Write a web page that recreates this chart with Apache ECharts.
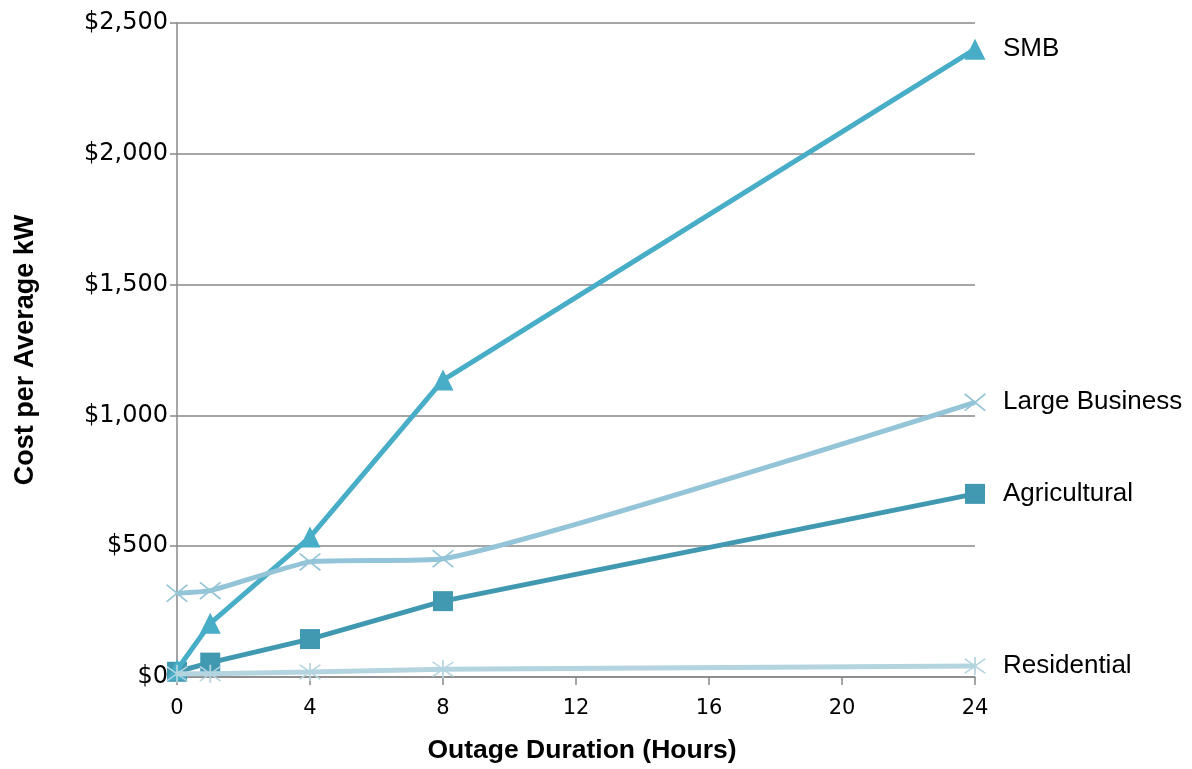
<!DOCTYPE html>
<html>
<head>
<meta charset="utf-8">
<script src="https://cdn.jsdelivr.net/npm/echarts@6/dist/echarts.min.js"></script>
<style>
html,body{margin:0;padding:0;background:#fff;}
#chart{width:1192px;height:769px;}
</style>
</head>
<body>
<div id="chart"></div>
<script>
const hours = [0, 1, 4, 8, 24];
const smb = [28, 205, 535, 1135, 2400];
const largeBusiness = [320, 330, 440, 452, 1050];
const agricultural = [20, 55, 145, 290, 700];
const residential = [12, 12, 19, 30, 42];
const seriesNames = ['SMB', 'Large Business', 'Agricultural', 'Residential'];
const xTicks = [0, 4, 8, 12, 16, 20, 24];
const yTicks = [0, 500, 1000, 1500, 2000, 2500];

const X_PATH = 'path://M0,6 L6,0 L100,94 L94,100 Z M94,0 L100,6 L6,100 L0,94 Z';
const STAR_PATH = 'path://M0,6 L6,0 L100,94 L94,100 Z M94,0 L100,6 L6,100 L0,94 Z M46,-8 L54,-8 L54,108 L46,108 Z';

function pairs(vals) { return hours.map((h, i) => [h, vals[i]]); }

const labelFont = { color: '#000', fontSize: 26, fontFamily: 'Liberation Sans, Arial, sans-serif' };

function mk(name, vals, color, symbol, size, smooth, z, w) {
  return {
    name: name, type: 'line', data: pairs(vals), smooth: smooth, z: z,
    symbol: symbol, symbolSize: size,
    lineStyle: { color: color, width: w },
    itemStyle: { color: color },
    endLabel: Object.assign({ show: true, formatter: '{a}', distance: 28 }, labelFont)
  };
}

const chart = echarts.init(document.getElementById('chart'), null, { renderer: 'canvas' });
chart.setOption({
  animation: false,
  backgroundColor: '#fff',
  grid: { left: 177, right: 217, top: 23, bottom: 91, containLabel: false },
  xAxis: {
    type: 'value', min: 0, max: 24, interval: 4,
    name: 'Outage Duration (Hours)', nameLocation: 'middle', nameGap: 60,
    nameTextStyle: { color: '#000', fontSize: 26.5, fontWeight: 'bold', fontFamily: 'Liberation Sans, Arial, sans-serif', padding: [0, 0, 0, 12] },
    axisLine: { show: true, lineStyle: { color: '#888', width: 1.5 } },
    axisTick: { show: true, inside: false, length: 8, lineStyle: { color: '#888', width: 1.5 } },
    axisLabel: { color: '#000', fontSize: 21, fontFamily: 'DejaVu Sans, sans-serif', margin: 21, formatter: v => xTicks.includes(v) ? String(v) : '' },
    splitLine: { show: false }
  },
  yAxis: {
    type: 'value', min: 0, max: 2500, interval: 500,
    name: 'Cost per Average kW', nameLocation: 'middle', nameGap: 138, nameRotate: 90,
    nameTextStyle: { color: '#000', fontSize: 27, fontWeight: 'bold', fontFamily: 'Liberation Sans, Arial, sans-serif', padding: [0, 0, 0, 0] },
    axisLine: { show: true, lineStyle: { color: '#888', width: 1.5 } },
    axisTick: { show: true, inside: false, length: 7, lineStyle: { color: '#888', width: 1.5 } },
    axisLabel: { color: '#000', fontSize: 24, fontFamily: 'DejaVu Sans, sans-serif', margin: 9,
      formatter: v => yTicks.includes(v) ? '$' + v.toLocaleString('en-US') : '' },
    splitLine: { show: true, lineStyle: { color: '#888', width: 1.5 } }
  },
  series: [
    mk(seriesNames[2], agricultural, '#4199b1', 'rect', 20, false, 2, 5),
    mk(seriesNames[0], smb, '#48adc7', 'triangle', 21, false, 3, 5),
    mk(seriesNames[1], largeBusiness, '#93c4d7', X_PATH, [22, 18], 0.15, 4, 5),
    mk(seriesNames[3], residential, '#b4d5e0', STAR_PATH, [22, 18], false, 5, 5)
  ]
});
</script>
</body>
</html>
